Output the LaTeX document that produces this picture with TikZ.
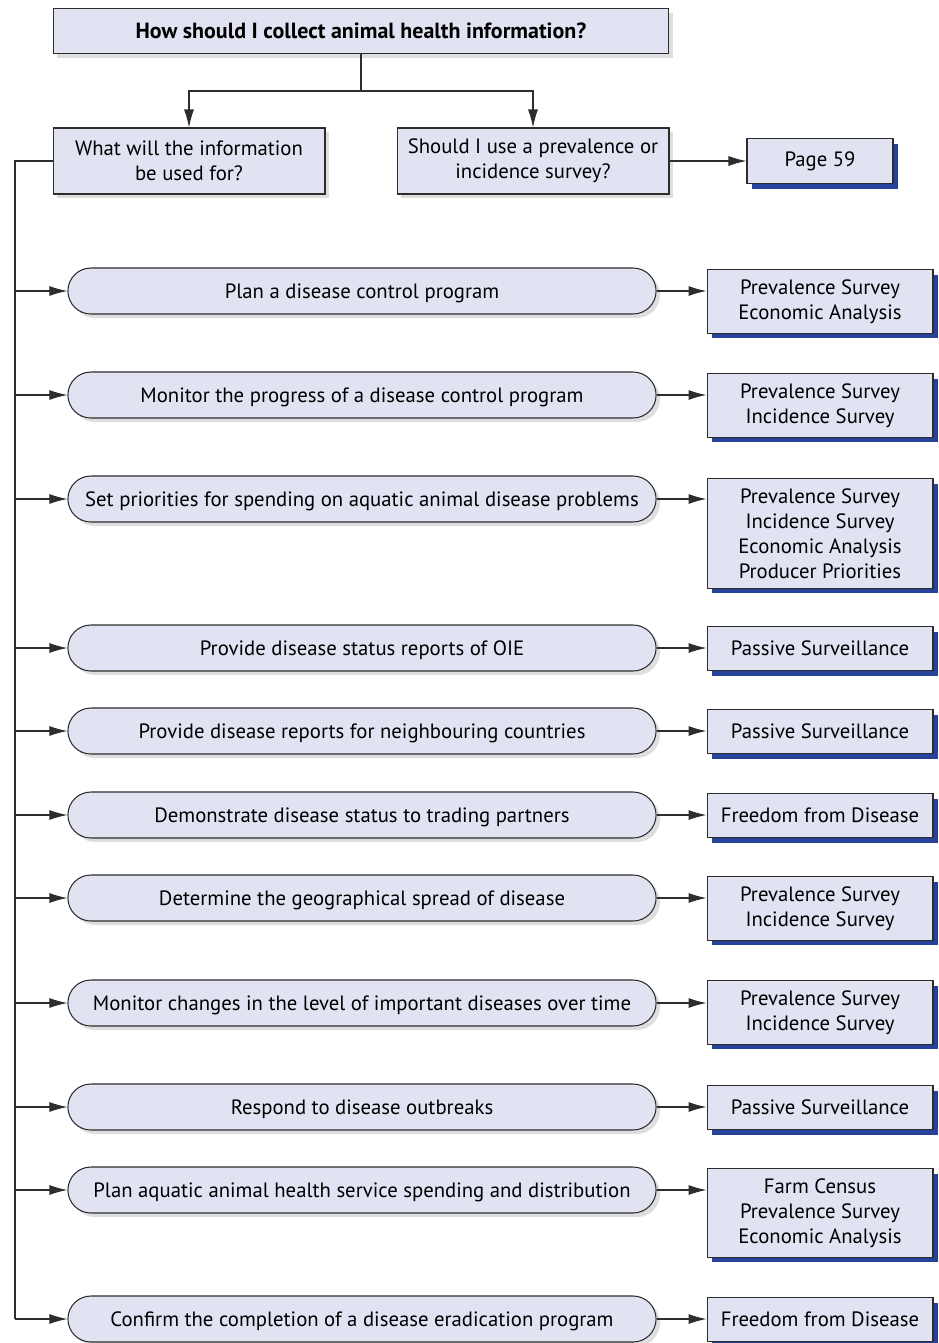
\documentclass[tikz,border=0pt]{standalone}
\usepackage{fontspec}
\setmainfont{PT Sans}
\usetikzlibrary{shapes.misc,shadows,arrows.meta}

\definecolor{boxfill}{RGB}{225,227,243}
\definecolor{boxline}{RGB}{45,45,45}
\definecolor{shblue}{RGB}{38,66,154}
\definecolor{shgray}{RGB}{222,222,222}

\tikzset{
	qbox/.style={draw=boxline, fill=boxfill, line width=0.6pt, align=center,
		drop shadow={shadow xshift=0.08cm, shadow yshift=-0.08cm, fill=shgray, opacity=1}},
	taskbox/.style={rounded rectangle, draw=boxline, fill=boxfill, line width=0.6pt,
		minimum width=12.0cm, minimum height=0.92cm, text depth=0pt,
		drop shadow={shadow xshift=0.08cm, shadow yshift=-0.08cm, fill=shgray, opacity=1}},
	methbox/.style={draw=boxline, fill=boxfill, line width=0.6pt, align=center,
		anchor=north, minimum width=4.52cm, minimum height=0.88cm, inner ysep=0.2cm,
		drop shadow={shadow xshift=0.1cm, shadow yshift=-0.1cm, fill=shblue, opacity=1}},
	link/.style={draw=boxline, line width=0.6pt},
	arr/.style={link, -{Latex[length=0.36cm,width=0.2cm]}}
}

\begin{document}
\begin{tikzpicture}[x=0.02cm, y=-0.02cm, font=\fontsize{11.8}{14.2}\selectfont]
	\useasboundingbox (0,0) rectangle (938,1343);
	% questions
	\node[qbox, minimum width=12.32cm, minimum height=0.9cm, font=\fontsize{12.5}{15}\selectfont\bfseries] (how) at (361,31) {How should I collect animal health information?};
	\node[qbox, minimum width=5.44cm, minimum height=1.32cm] (what) at (189,161) {What will the information\\be used for?};
	\node[qbox, minimum width=5.44cm, minimum height=1.32cm] (survey) at (533,161) {Should I use a prevalence or\\incidence survey?};
	\node[methbox, anchor=center, minimum width=2.92cm, minimum height=0.9cm] (page) at (820,161) {Page 59};
	\coordinate (split) at (361,91);
	\coordinate (trunk) at (15,1319);
	\draw[link] (how.south) -- (split);
	\draw[arr] (split) -| (what.north);
	\draw[arr] (split) -| (survey.north);
	\draw[arr] (survey.east |- page.west) -- (page.west);
	\draw[link] (what.west) -| (trunk);
	% uses
	\node[taskbox] (use1) at (362,291) {Plan a disease control program};
	\node[taskbox] (use2) at (362,395) {Monitor the progress of a disease control program};
	\node[taskbox] (use3) at (362,499) {Set priorities for spending on aquatic animal disease problems};
	\node[taskbox] (use4) at (362,648) {Provide disease status reports of OIE};
	\node[taskbox] (use5) at (362,731) {Provide disease reports for neighbouring countries};
	\node[taskbox] (use6) at (362,815) {Demonstrate disease status to trading partners};
	\node[taskbox] (use7) at (362,898) {Determine the geographical spread of disease};
	\node[taskbox] (use8) at (362,1003) {Monitor changes in the level of important diseases over time};
	\node[taskbox] (use9) at (362,1107) {Respond to disease outbreaks};
	\node[taskbox] (use10) at (362,1190) {Plan aquatic animal health service spending and distribution};
	\node[taskbox] (use11) at (362,1319) {Confirm the completion of a disease eradication program};
	% methods
	\node[methbox] (meth1) at (820,269) {Prevalence Survey\\Economic Analysis};
	\node[methbox] (meth2) at (820,373) {Prevalence Survey\\Incidence Survey};
	\node[methbox] (meth3) at (820,478) {Prevalence Survey\\Incidence Survey\\Economic Analysis\\Producer Priorities};
	\node[methbox] (meth4) at (820,626) {Passive Surveillance};
	\node[methbox] (meth5) at (820,709) {Passive Surveillance};
	\node[methbox] (meth6) at (820,793) {Freedom from Disease};
	\node[methbox] (meth7) at (820,876) {Prevalence Survey\\Incidence Survey};
	\node[methbox] (meth8) at (820,980) {Prevalence Survey\\Incidence Survey};
	\node[methbox] (meth9) at (820,1085) {Passive Surveillance};
	\node[methbox] (meth10) at (820,1168) {Farm Census\\Prevalence Survey\\Economic Analysis};
	\node[methbox] (meth11) at (820,1297) {Freedom from Disease};
	% arrows
	\draw[arr] (trunk |- use1.west) -- (use1.west);
	\draw[arr] (use1.east) -- (use1.east -| meth1.west);
	\draw[arr] (trunk |- use2.west) -- (use2.west);
	\draw[arr] (use2.east) -- (use2.east -| meth2.west);
	\draw[arr] (trunk |- use3.west) -- (use3.west);
	\draw[arr] (use3.east) -- (use3.east -| meth3.west);
	\draw[arr] (trunk |- use4.west) -- (use4.west);
	\draw[arr] (use4.east) -- (use4.east -| meth4.west);
	\draw[arr] (trunk |- use5.west) -- (use5.west);
	\draw[arr] (use5.east) -- (use5.east -| meth5.west);
	\draw[arr] (trunk |- use6.west) -- (use6.west);
	\draw[arr] (use6.east) -- (use6.east -| meth6.west);
	\draw[arr] (trunk |- use7.west) -- (use7.west);
	\draw[arr] (use7.east) -- (use7.east -| meth7.west);
	\draw[arr] (trunk |- use8.west) -- (use8.west);
	\draw[arr] (use8.east) -- (use8.east -| meth8.west);
	\draw[arr] (trunk |- use9.west) -- (use9.west);
	\draw[arr] (use9.east) -- (use9.east -| meth9.west);
	\draw[arr] (trunk |- use10.west) -- (use10.west);
	\draw[arr] (use10.east) -- (use10.east -| meth10.west);
	\draw[arr] (trunk) -- (use11.west);
	\draw[arr] (use11.east) -- (use11.east -| meth11.west);
\end{tikzpicture}
\end{document}
